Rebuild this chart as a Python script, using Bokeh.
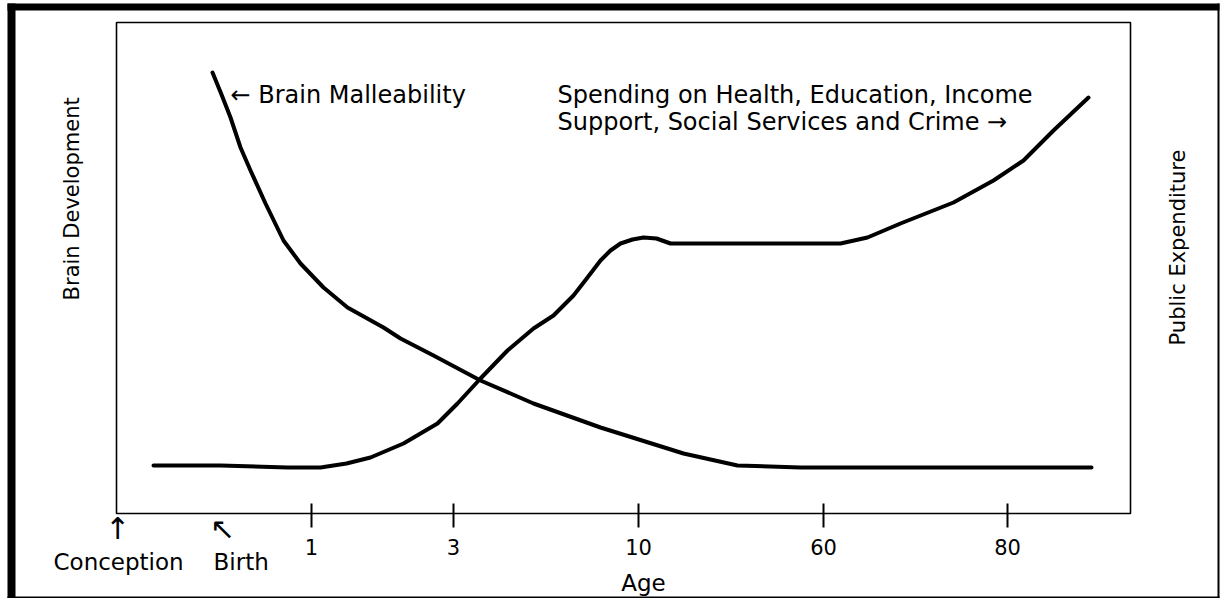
from bokeh.plotting import figure
from bokeh.models import Range1d, FixedTicker, Label, BoxAnnotation, ColumnDataSource
from bokeh.embed import file_html
from bokeh.resources import INLINE

# Horizontal position along the (non-linear) age axis: 0 = conception, 1014 = end of axis
age_tick_positions = [195, 337, 522, 707, 891]
age_tick_labels = ["1", "3", "10", "60", "80"]
conception_position = 1
birth_position = 106

# Brain malleability (relative level, 0 = bottom of chart box, 491 = top)
brain_x = [96, 105, 114, 124, 134, 149, 167, 184, 207, 231, 267, 284, 317, 364, 417, 484, 567, 621, 684, 975]
brain_y = [441, 419, 396, 366, 343, 310, 273, 250, 226, 206, 186, 175, 158, 133, 110, 86, 60, 48, 46, 46]

# Public expenditure (same relative scale)
spend_x = [37, 104, 171, 204, 230, 254, 287, 321, 341, 364, 391, 417, 437, 457, 471, 484, 494, 504, 516,
           527, 540, 554, 724, 751, 784, 837, 877, 907, 937, 972]
spend_y = [48, 48, 46, 46, 50, 56, 70, 90, 110, 135, 163, 185, 198, 218, 236, 253, 263, 270, 274,
           276, 275, 270, 270, 276, 290, 311, 333, 353, 383, 416]

FONT = "DejaVu Sans"
W, H = 1220, 598
BOX_LEFT_PX, BOX_BOTTOM_PX = 116, 513   # where the chart box sits on the canvas

p = figure(width=W, height=H,
           x_range=Range1d(-BOX_LEFT_PX, W - BOX_LEFT_PX),
           y_range=Range1d(BOX_BOTTOM_PX - H, BOX_BOTTOM_PX),
           output_backend="svg", toolbar_location=None, y_axis_location=None,
           min_border=0, min_border_left=0, min_border_right=0,
           min_border_top=0, min_border_bottom=0)
p.background_fill_color = "white"
p.border_fill_color = "white"
p.grid.grid_line_color = None
p.outline_line_color = None

ax = p.xaxis[0]
ax.fixed_location = 0
ax.ticker = FixedTicker(ticks=age_tick_positions)
ax.major_label_overrides = {pos: lab for pos, lab in zip(age_tick_positions, age_tick_labels)}
ax.axis_line_color = None
ax.minor_tick_line_color = None
ax.major_tick_in = 10
ax.major_tick_out = 14
ax.major_tick_line_width = 2
ax.major_tick_line_color = "black"
ax.major_label_text_font = FONT
ax.major_label_text_font_size = "21px"
ax.major_label_text_color = "black"
ax.major_label_standoff = 11

# chart box
p.add_layout(BoxAnnotation(left=0, right=1014, bottom=0, top=491, fill_alpha=0,
                           line_color="black", line_alpha=1.0, line_width=1.6, level="underlay"))

brain_src = ColumnDataSource(dict(x=brain_x, y=brain_y))
spend_src = ColumnDataSource(dict(x=spend_x, y=spend_y))
p.line("x", "y", source=brain_src, line_color="black", line_width=4, line_join="round", line_cap="round")
p.line("x", "y", source=spend_src, line_color="black", line_width=4, line_join="round", line_cap="round")


def add_label(x, y, text, size="24px", align="left", baseline="alphabetic", angle=0):
    p.add_layout(Label(x=x, y=y, text=text, text_font=FONT, text_font_size=size,
                       text_color="black", text_align=align, text_baseline=baseline,
                       angle=angle, angle_units="deg"))


add_label(114, 419, "\u2190 Brain Malleability")
add_label(441, 419, "Spending on Health, Education, Income")
add_label(441, 392, "Support, Social Services and Crime  \u2192")
add_label(-45, 318, "Brain  Development", size="21px", align="center", angle=90)
add_label(1061, 266, "Public Expenditure", size="21px", align="center", angle=90)
add_label(-63, -48, "Conception", size="23px")
add_label(97, -48, "Birth", size="23px")
add_label(527, -69, "Age", size="23px", align="center")
add_label(conception_position, -15, "\u2191", size="30px", align="center", baseline="middle")
add_label(birth_position, -15, "\u2196", size="30px", align="center", baseline="middle")

# outer picture frame (canvas pixels)
for l, r, t, b in [(7, 15, 3, 598), (7, 1219, 3, 10), (1217, 1219, 3, 598), (7, 1219, 596, 598)]:
    p.add_layout(BoxAnnotation(left=l, right=r, top=t, bottom=b,
                               left_units="canvas", right_units="canvas",
                               top_units="canvas", bottom_units="canvas",
                               fill_color="black", fill_alpha=1.0, line_color=None))

open("out.html", "w").write(file_html(p, INLINE))
